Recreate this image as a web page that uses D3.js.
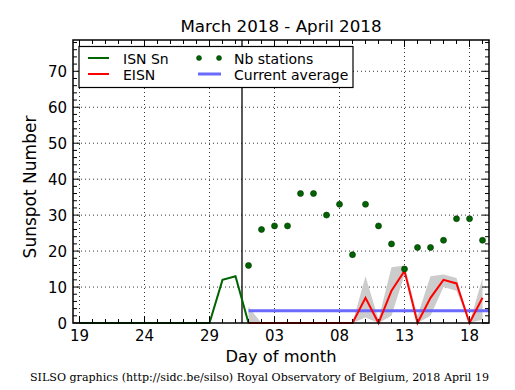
<!DOCTYPE html>
<html><head><meta charset="utf-8">
<script src="https://cdn.jsdelivr.net/npm/d3@7"></script>
<style>body{margin:0;background:#fff}svg{display:block}</style>
</head><body>
<svg id="c" width="515" height="390"></svg>
<script>
// Day index 0 = 2018-03-19
const tickIndex = [0, 5, 10, 15, 20, 25, 30];
const tickLabels = ["19", "24", "29", "03", "08", "13", "18"];
const yTicks = [0, 10, 20, 30, 40, 50, 60, 70];

const isnDays = [0,1,2,3,4,5,6,7,8,9,10,11,12,13];
const isnValues = [0,0,0,0,0,0,0,0,0,0,0,12,13,0];

const aprDays = [13,14,15,16,17,18,19,20,21,22,23,24,25,26,27,28,29,30,31];
const eisnValues = [0,0,0,0,0,0,0,0,0,7,0,9,14.5,0,7,12,11,0,7];
const bandUpper = [4.5,0,0,0,0,0,0,0,0,13,1,15.5,16,2,13,13.5,12.5,0,12.5];
const bandLower = [0,0,0,0,0,0,0,0,0,1.5,0,2,13.5,0,2,10,9,0,1];
const nbStations = [16,26,27,27,36,36,30,33,19,33,27,22,15,21,21,23,29,29,23];
const currentAverage = 3.4;
const avgStart = 13, avgEnd = 31.5;
const monthBoundary = 12.5;

const svg = d3.select("#c");
const L = 73, R = 489, T = 40, B = 323;
const x = d3.scaleLinear().domain([-0.5, 31.5]).range([L, R]);
const y = d3.scaleLinear().domain([0, 78.7]).range([B, T]);
const font = "DejaVu Sans, sans-serif";

// grid
const g = svg.append("g");
g.selectAll(".gx").data(tickIndex).enter().append("line")
  .attr("x1", d => x(d)).attr("x2", d => x(d)).attr("y1", T).attr("y2", B)
  .attr("stroke", "#000").attr("stroke-width", 0.8).attr("stroke-dasharray", "1,3");
g.selectAll(".gy").data(yTicks.slice(1)).enter().append("line")
  .attr("x1", L).attr("x2", R).attr("y1", d => y(d)).attr("y2", d => y(d))
  .attr("stroke", "#000").attr("stroke-width", 0.8).attr("stroke-dasharray", "1,3");

// band
const area = d3.area().x((d, i) => x(aprDays[i])).y0((d, i) => y(bandLower[i])).y1(d => y(d));
svg.append("path").datum(bandUpper).attr("d", area).attr("fill", "#cccccc").attr("stroke", "none");

// month boundary
svg.append("line").attr("x1", x(monthBoundary)).attr("x2", x(monthBoundary)).attr("y1", T).attr("y2", B)
  .attr("stroke", "#000").attr("stroke-width", 1.3);

// ISN
const line = d3.line().x(d => x(d[0])).y(d => y(d[1]));
svg.append("path").datum(isnDays.map((d, i) => [d, isnValues[i]])).attr("d", line)
  .attr("fill", "none").attr("stroke", "#006400").attr("stroke-width", 2);

// current average
svg.append("line").attr("x1", x(avgStart)).attr("x2", x(avgEnd)).attr("y1", y(currentAverage)).attr("y2", y(currentAverage))
  .attr("stroke", "#6a6aff").attr("stroke-width", 3);

// EISN
svg.append("path").datum(aprDays.map((d, i) => [d, eisnValues[i]])).attr("d", line)
  .attr("fill", "none").attr("stroke", "#ff0000").attr("stroke-width", 2);

// Nb stations
svg.selectAll(".dot").data(nbStations).enter().append("circle")
  .attr("cx", (d, i) => x(aprDays[i])).attr("cy", d => y(d)).attr("r", 3)
  .attr("fill", "#006400").attr("stroke", "#003000").attr("stroke-width", 0.6);

// axes ticks (inward, all sides)
const ax = svg.append("g").attr("stroke", "#000").attr("stroke-width", 1);
const days = d3.range(0, 32);
days.forEach(d => {
  const major = tickIndex.includes(d);
  const len = major ? 7 : 4;
  ax.append("line").attr("x1", x(d)).attr("x2", x(d)).attr("y1", B).attr("y2", B - len);
  ax.append("line").attr("x1", x(d)).attr("x2", x(d)).attr("y1", T).attr("y2", T + len);
});
d3.range(0, 79, 2).forEach(v => {
  const major = v % 10 === 0;
  const len = major ? 7 : 4;
  ax.append("line").attr("x1", L).attr("x2", L + len).attr("y1", y(v)).attr("y2", y(v));
  ax.append("line").attr("x1", R).attr("x2", R - len).attr("y1", y(v)).attr("y2", y(v));
});
svg.append("rect").attr("x", L).attr("y", T).attr("width", R - L).attr("height", B - T)
  .attr("fill", "none").attr("stroke", "#000").attr("stroke-width", 1.5);

// tick labels
svg.selectAll(".xl").data(tickIndex).enter().append("text")
  .attr("x", d => x(d)).attr("y", 341).attr("text-anchor", "middle")
  .attr("font-family", font).attr("font-size", 15).text((d, i) => tickLabels[i]);
svg.selectAll(".yl").data(yTicks).enter().append("text")
  .attr("x", 67).attr("y", d => y(d) + 5.5).attr("text-anchor", "end")
  .attr("font-family", font).attr("font-size", 15).text(d => d);

// labels
svg.append("text").attr("x", (L + R) / 2).attr("y", 32).attr("text-anchor", "middle")
  .attr("font-family", font).attr("font-size", 16.7).text("March 2018 - April 2018");
svg.append("text").attr("x", (L + R) / 2).attr("y", 362).attr("text-anchor", "middle")
  .attr("font-family", font).attr("font-size", 16.3).text("Day of month");
svg.append("text").attr("transform", `translate(36,187) rotate(-90)`).attr("text-anchor", "middle")
  .attr("font-family", font).attr("font-size", 17).text("Sunspot Number");
svg.append("text").attr("x", 30).attr("y", 381)
  .attr("font-family", "DejaVu Serif, serif").attr("font-size", 11)
  .attr("textLength", 459).attr("lengthAdjust", "spacingAndGlyphs")
  .text("SILSO graphics (http://sidc.be/silso) Royal Observatory of Belgium, 2018 April 19");

// legend
const lg = svg.append("g");
lg.append("rect").attr("x", 79).attr("y", 46.5).attr("width", 274).attr("height", 41)
  .attr("fill", "#fff").attr("stroke", "#000").attr("stroke-width", 1.2);
const lf = 14;
lg.append("line").attr("x1", 88).attr("x2", 109).attr("y1", 58).attr("y2", 58).attr("stroke", "#006400").attr("stroke-width", 2);
lg.append("text").attr("x", 123).attr("y", 63.5).attr("font-family", font).attr("font-size", lf).text("ISN Sn");
lg.append("line").attr("x1", 88).attr("x2", 109).attr("y1", 74).attr("y2", 74).attr("stroke", "#ff0000").attr("stroke-width", 2);
lg.append("text").attr("x", 123).attr("y", 79.5).attr("font-family", font).attr("font-size", lf).text("EISN");
[199, 219].forEach(cx => lg.append("circle").attr("cx", cx).attr("cy", 58).attr("r", 2.5)
  .attr("fill", "#006400").attr("stroke", "#003000").attr("stroke-width", 0.5));
lg.append("text").attr("x", 234).attr("y", 63.5).attr("font-family", font).attr("font-size", lf).text("Nb stations");
lg.append("line").attr("x1", 198).attr("x2", 221).attr("y1", 74).attr("y2", 74).attr("stroke", "#6a6aff").attr("stroke-width", 3);
lg.append("text").attr("x", 234).attr("y", 79.5).attr("font-family", font).attr("font-size", lf).text("Current average");
</script>
</body></html>
